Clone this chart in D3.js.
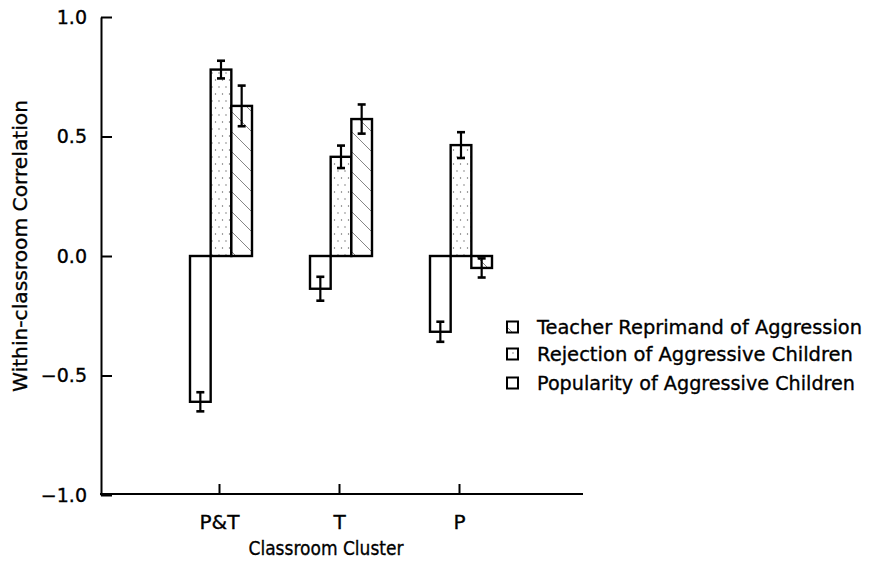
<!DOCTYPE html>
<html>
<head>
<meta charset="utf-8">
<script src="https://cdn.jsdelivr.net/npm/d3@7"></script>
<style>
  html, body { margin: 0; padding: 0; background: #fff; }
  svg { display: block; }
  text { font-family: "DejaVu Sans", sans-serif; fill: #000; stroke: #000; stroke-width: 0.35px; }
</style>
</head>
<body>
<svg id="chart" width="871" height="571"></svg>
<script>
// ---- data ----
const categories = ["P&T", "T", "P"];
const seriesNames = ["Popularity of Aggressive Children", "Rejection of Aggressive Children", "Teacher Reprimand of Aggression"];
const popularity = [-0.61, -0.137, -0.317];
const popularityErr = [0.04, 0.05, 0.042];
const rejection = [0.78, 0.415, 0.464];
const rejectionErr = [0.037, 0.047, 0.054];
const teacher = [0.628, 0.573, -0.05];
const teacherErr = [0.085, 0.061, 0.04];
const yTicks = [-1.0, -0.5, 0.0, 0.5, 1.0];
const legendOrder = ["Teacher Reprimand of Aggression", "Rejection of Aggressive Children", "Popularity of Aggressive Children"];

const seriesValues = [popularity, rejection, teacher];
const seriesErrs = [popularityErr, rejectionErr, teacherErr];
const fills = ["#fff", "url(#dots)", "url(#hatch)"];

const svg = d3.select("#chart");
const defs = svg.append("defs");

// dots pattern
const pd = defs.append("pattern").attr("id", "dots").attr("patternUnits", "userSpaceOnUse")
  .attr("width", 7).attr("height", 14);
pd.append("rect").attr("width", 7).attr("height", 14).attr("fill", "#fff");
pd.append("circle").attr("cx", 2).attr("cy", 3).attr("r", 0.7).attr("fill", "#666");
pd.append("circle").attr("cx", 5.5).attr("cy", 10).attr("r", 0.7).attr("fill", "#666");

// hatch pattern (\ direction)
const ph = defs.append("pattern").attr("id", "hatch").attr("patternUnits", "userSpaceOnUse")
  .attr("width", 20).attr("height", 20);
ph.append("rect").attr("width", 20).attr("height", 20).attr("fill", "#fff");
ph.append("path").attr("d", "M0,0 L20,20 M-10,10 L10,30 M10,-10 L30,10")
  .attr("stroke", "#666").attr("stroke-width", 0.8);

// scales
const y = d3.scaleLinear().domain([-1, 1]).range([495, 17]);
const x = d3.scalePoint().domain(categories).range([99, 579]).padding(1);
const inner = d3.scaleBand().domain(d3.range(3)).range([-29, 33]);

const axisLeftX = 101;
const axisBottomY = 494;

// y axis
const yAxis = d3.axisLeft(y).tickValues(yTicks)
  .tickSizeInner(-11).tickSizeOuter(0).tickPadding(14);
const gy = svg.append("g").attr("transform", `translate(${axisLeftX},0)`).call(yAxis);
gy.select(".domain").attr("stroke", "#000").attr("stroke-width", 2);
gy.selectAll(".tick line").attr("stroke", "#000").attr("stroke-width", 2);
gy.selectAll(".tick text").attr("font-size", 19).attr("font-family", "DejaVu Sans")
  .text(d => d.toFixed(1).replace("-", "\u2212"));

// x axis
const xAxis = d3.axisBottom(x).tickSizeInner(-10).tickSizeOuter(0).tickPadding(21);
const gx = svg.append("g").attr("transform", `translate(0,${axisBottomY})`).call(xAxis);
gx.select(".domain").remove();
gx.selectAll(".tick line").attr("stroke", "#000").attr("stroke-width", 2);
gx.selectAll(".tick text").attr("font-size", 20).attr("font-family", "DejaVu Sans");
svg.append("line").attr("x1", axisLeftX - 1).attr("x2", 583)
  .attr("y1", axisBottomY).attr("y2", axisBottomY).attr("stroke", "#000").attr("stroke-width", 2);

// bars
const data = [];
categories.forEach((c, ci) => {
  seriesValues.forEach((vals, si) => {
    data.push({ c, si, v: vals[ci], e: seriesErrs[si][ci] });
  });
});

const bars = svg.append("g");
bars.selectAll("rect").data(data).join("rect")
  .attr("x", d => x(d.c) + inner(d.si))
  .attr("width", inner.bandwidth())
  .attr("y", d => Math.min(y(d.v), y(0)))
  .attr("height", d => Math.abs(y(d.v) - y(0)))
  .attr("fill", d => fills[d.si])
  .attr("stroke", "#000").attr("stroke-width", 2.4);

// error bars
const eb = svg.append("g").attr("stroke", "#000");
data.forEach(d => {
  const cx = x(d.c) + inner(d.si) + inner.bandwidth() / 2;
  const y1 = y(d.v - d.e), y2 = y(d.v + d.e);
  eb.append("line").attr("x1", cx).attr("x2", cx).attr("y1", y1).attr("y2", y2).attr("stroke-width", 2.2);
  eb.append("line").attr("x1", cx - 4).attr("x2", cx + 4).attr("y1", y1).attr("y2", y1).attr("stroke-width", 2.6);
  eb.append("line").attr("x1", cx - 4).attr("x2", cx + 4).attr("y1", y2).attr("y2", y2).attr("stroke-width", 2.6);
});

// axis titles
svg.append("text").attr("x", 326).attr("y", 555).attr("text-anchor", "middle")
  .attr("font-size", 20).attr("textLength", 155).attr("lengthAdjust", "spacingAndGlyphs")
  .text("Classroom Cluster");
svg.append("text").attr("transform", "translate(27,246) rotate(-90)").attr("text-anchor", "middle")
  .attr("font-size", 20).attr("textLength", 292).attr("lengthAdjust", "spacingAndGlyphs")
  .text("Within-classroom Correlation");

// legend
const legendFill = { [seriesNames[0]]: fills[0], [seriesNames[1]]: fills[1], [seriesNames[2]]: fills[2] };
const legendLen = [325, 316, 318];
const lg = svg.append("g");
const rowY = [327, 354, 383];
legendOrder.forEach((name, i) => {
  lg.append("rect").attr("x", 507).attr("y", rowY[i] - 5.5).attr("width", 11).attr("height", 11)
    .attr("fill", legendFill[name]).attr("stroke", "#000").attr("stroke-width", 2);
  lg.append("text").attr("x", 537).attr("y", rowY[i] + 7).attr("font-size", 20)
    .attr("textLength", legendLen[i]).attr("lengthAdjust", "spacingAndGlyphs").text(name);
});
</script>
</body>
</html>
